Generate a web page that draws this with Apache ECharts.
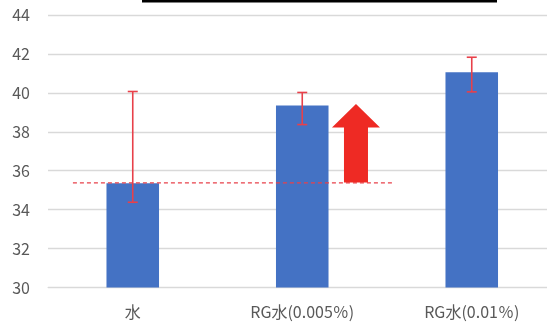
<!DOCTYPE html>
<html><head><meta charset="utf-8">
<script src="https://cdn.jsdelivr.net/npm/echarts@6/dist/echarts.min.js"></script>
<style>html,body{margin:0;padding:0;background:#fff}#c{width:547px;height:325px}</style>
</head><body><div id="c"></div>
<script>
const categories = ['水', 'RG水(0.005％)', 'RG水(0.01％)'];
const means = [35.36, 39.35, 41.06];
const errLow = [34.38, 38.37, 40.05];
const errHigh = [40.07, 40.02, 41.83];
const yTicks = [30, 32, 34, 36, 38, 40, 42, 44];
const baseline = 35.38;          // dashed reference level
const arrowFrom = 35.39, arrowHeadBase = 38.22, arrowTip = 39.43;

const chart = echarts.init(document.getElementById('c'), null, {renderer: 'canvas'});
const font = '"Noto Sans CJK JP", "Noto Sans", sans-serif';
chart.setOption({
  animation: false,
  backgroundColor: '#fff',
  grid: {left: 48, right: -9.5, top: 15, bottom: 37.5, containLabel: false, outerBoundsMode: 'none'},
  xAxis: [{
    type: 'category', data: categories,
    axisLine: {lineStyle: {color: '#d9d9d9', width: 1}},
    axisTick: {show: false},
    axisLabel: {color: '#595959', fontSize: 16, fontFamily: font, margin: 16}
  }, {
    type: 'value', min: 0, max: 3, show: false
  }],
  yAxis: {
    type: 'value', min: yTicks[0], max: yTicks[yTicks.length - 1], interval: 2,
    axisLine: {show: false}, axisTick: {show: false},
    splitLine: {lineStyle: {color: '#d9d9d9', width: 1.3}},
    axisLabel: {color: '#595959', fontSize: 16, fontFamily: font, margin: 18}
  },
  series: [{
    type: 'bar', data: means, barWidth: '31%',
    itemStyle: {color: '#4472C4'}, z: 2
  }, {
    type: 'custom', xAxisIndex: 0, z: 4,
    data: categories.map((c, i) => [i, errLow[i], errHigh[i]]),
    renderItem: function (params, api) {
      const lo = api.coord([api.value(0), api.value(1)]);
      const hi = api.coord([api.value(0), api.value(2)]);
      const hw = 5;
      const st = {stroke: '#E8404A', lineWidth: 1.6};
      return {type: 'group', children: [
        {type: 'line', shape: {x1: hi[0], y1: hi[1], x2: lo[0], y2: lo[1]}, style: st},
        {type: 'line', shape: {x1: hi[0] - hw, y1: hi[1], x2: hi[0] + hw, y2: hi[1]}, style: st},
        {type: 'line', shape: {x1: lo[0] - hw, y1: lo[1], x2: lo[0] + hw, y2: lo[1]}, style: st}
      ]};
    }
  }, {
    type: 'line', xAxisIndex: 1, z: 5, symbol: 'none',
    data: [[0.147, baseline], [2.035, baseline]],
    lineStyle: {color: '#E8404A', width: 1.2, type: [4, 3]}
  }, {
    type: 'custom', xAxisIndex: 1, z: 6,
    data: [[1.817, arrowFrom, arrowHeadBase, arrowTip]],
    renderItem: function (params, api) {
      const cx = api.value(0);
      const b = api.coord([cx, api.value(1)]);
      const h = api.coord([cx, api.value(2)]);
      const t = api.coord([cx, api.value(3)]);
      const sw = 12, hw = 24;
      return {type: 'polygon', shape: {points: [
        [b[0] - sw, b[1]], [b[0] - sw, h[1]], [b[0] - hw, h[1]], [t[0], t[1]],
        [b[0] + hw, h[1]], [b[0] + sw, h[1]], [b[0] + sw, b[1]]
      ]}, style: {fill: '#EE2A24'}};
    }
  }],
  graphic: [{
    type: 'rect', shape: {x: 142, y: 0, width: 355, height: 2.5},
    style: {fill: '#000'}
  }]
});
</script></body></html>
